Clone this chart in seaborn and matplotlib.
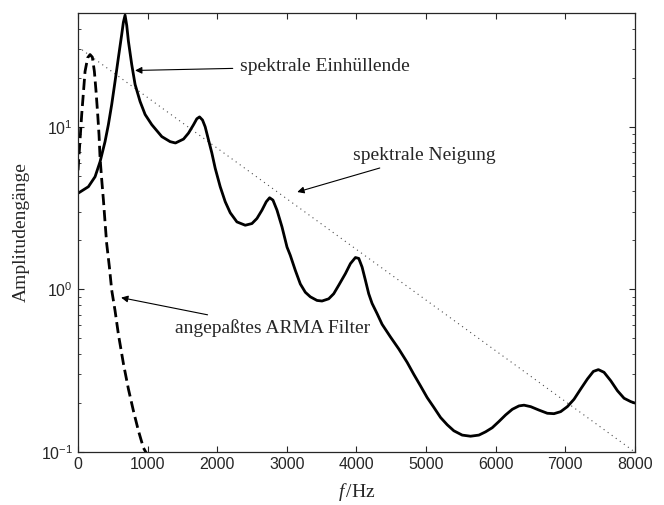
import numpy as np
import pandas as pd
import matplotlib
matplotlib.use('Agg')
import matplotlib.pyplot as plt
import seaborn as sns


# spectral envelope (solid)
env_f = [0, 149, 245, 317, 388, 436, 484, 532, 580, 628, 652, 676, 700, 724, 772, 820,
         892, 964, 1060, 1204, 1324, 1400, 1516, 1588, 1660, 1707, 1746, 1789, 1827,
         1875, 1923, 1971, 2043, 2115, 2187, 2283, 2403, 2499, 2571, 2643, 2705, 2753,
         2801, 2859, 2931, 3003, 3050, 3122, 3194, 3266, 3338, 3434, 3506, 3602, 3674,
         3746, 3842, 3914, 3986, 4034, 4082, 4129, 4177, 4225, 4297, 4369, 4489, 4609,
         4729, 4825, 4921, 5017, 5113, 5209, 5305, 5400, 5520, 5640, 5760, 5856, 5952,
         6048, 6144, 6240, 6336, 6408, 6504, 6623, 6743, 6839, 6935, 7031, 7127, 7223,
         7319, 7405, 7477, 7558, 7655, 7751, 7846, 7942, 8000]
env_a = [3.9, 4.28, 4.93, 6.1, 8.1, 10.3, 13.7, 19.0, 26.6, 37.0, 44.0, 48.6, 42.0, 33.6, 24.1, 18.2,
         14.3, 11.9, 10.3, 8.7, 8.1, 7.95, 8.4, 9.15, 10.3, 11.2, 11.5, 11.0, 10.0,
         8.3, 6.9, 5.56, 4.28, 3.46, 2.96, 2.6, 2.48, 2.54, 2.73, 3.07, 3.46, 3.66,
         3.54, 3.07, 2.42, 1.82, 1.62, 1.31, 1.08, 0.96, 0.90, 0.855, 0.848, 0.875, 0.94,
         1.06, 1.25, 1.44, 1.57, 1.55, 1.37, 1.14, 0.94, 0.82, 0.71, 0.61, 0.51, 0.43,
         0.356, 0.30, 0.255, 0.216, 0.188, 0.163, 0.147, 0.135, 0.127, 0.125, 0.127, 0.133, 0.141,
         0.154, 0.169, 0.183, 0.192, 0.194, 0.19, 0.181, 0.173, 0.172, 0.177, 0.19, 0.211, 0.244,
         0.281, 0.313, 0.321, 0.309, 0.274, 0.238, 0.214, 0.204, 0.2]

# fitted ARMA filter (dashed)
arma_f = [0, 53, 101, 139, 173, 206, 235, 259, 283, 302, 317, 341, 365, 388, 412, 451,
          484, 532, 580, 652, 724, 796, 868, 940, 990]
arma_a = [5.4, 11.9, 21.9, 26.6, 27.8, 26.8, 21.9, 16.5, 11.9, 8.9, 6.4, 4.7, 3.54, 2.6, 1.91, 1.37,
          0.99, 0.74, 0.53, 0.35, 0.244, 0.179, 0.135, 0.106, 0.097]

# spectral tilt (dotted)
tilt_f = [0, 8000]
tilt_a = [31, 0.1]

env = pd.DataFrame({'f': env_f, 'a': env_a})
arma = pd.DataFrame({'f': arma_f, 'a': arma_a})
tilt = pd.DataFrame({'f': tilt_f, 'a': tilt_a})

sns.set_style('ticks')
plt.rcParams['font.family'] = ['Liberation Sans', 'DejaVu Sans']
plt.rcParams['mathtext.fontset'] = 'custom'
plt.rcParams['mathtext.rm'] = 'Liberation Sans'
plt.rcParams['mathtext.it'] = 'Liberation Serif:italic'

fig = plt.figure(figsize=(6.64, 5.05), dpi=100)
ax = fig.add_axes([0.1175, 0.105, 0.8385, 0.869])

sns.lineplot(data=tilt, x='f', y='a', ax=ax, color='0.3', lw=0.8, linestyle=(0, (1, 3.5)))
sns.lineplot(data=arma, x='f', y='a', ax=ax, color='black', lw=2, linestyle=(0, (4, 1.8)))
sns.lineplot(data=env, x='f', y='a', ax=ax, color='black', lw=2)

ax.set_yscale('log')
ax.set_xlim(0, 8000)
ax.set_ylim(0.1, 50)
ax.set_xticks(range(0, 8001, 1000))
ax.tick_params(which='both', direction='in', top=True, right=True, labelsize=11.5)
ax.tick_params(which='major', length=4)
ax.tick_params(which='minor', length=2.5)
for s in ax.spines.values():
    s.set_linewidth(0.9)

serif = ['Liberation Serif', 'DejaVu Serif']
ax.set_xlabel(r'$f\,$/Hz', fontsize=14, family=serif)
ax.set_ylabel('Amplitudengänge', fontsize=14, family=serif)
ax.xaxis.set_label_coords(0.5, -0.066)
ax.yaxis.set_label_coords(-0.086, 0.5)

arrow = dict(arrowstyle='-|>', color='black', lw=0.8, mutation_scale=10, shrinkA=3, shrinkB=0)
ax.annotate('spektrale Einhüllende', xy=(820, 22.2), xytext=(2330, 23.5),
            ha='left', va='center', fontsize=14, family=serif, arrowprops=arrow)
ax.annotate('spektrale Neigung', xy=(3150, 3.97), xytext=(3950, 6.7),
            ha='left', va='center', fontsize=14, family=serif, arrowprops=arrow)
ax.annotate('angepaßtes ARMA Filter', xy=(619, 0.89), xytext=(1400, 0.58),
            ha='left', va='center', fontsize=14, family=serif, arrowprops=arrow)

plt.savefig('out.png', dpi=100)
